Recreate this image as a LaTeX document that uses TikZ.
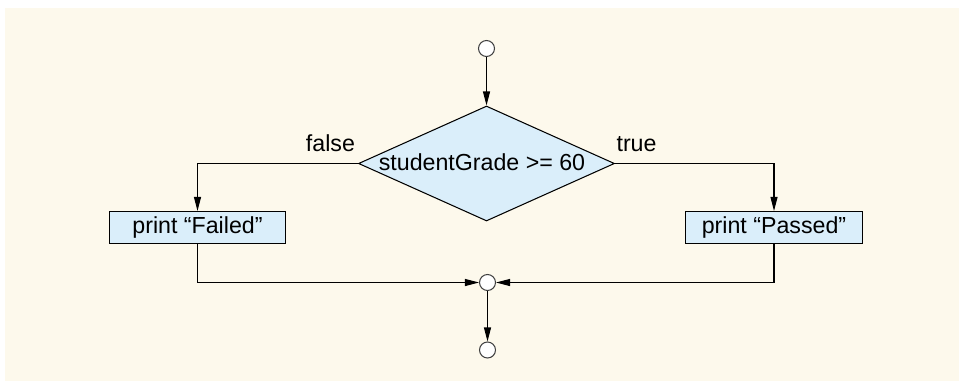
\documentclass[tikz,border=0pt]{standalone}
\usepackage{fontspec}
\setmainfont{Liberation Sans}
\definecolor{cream}{HTML}{FDF9EC}
\definecolor{paleblue}{HTML}{DAEEFA}
\usetikzlibrary{calc, positioning, shapes.geometric, arrows.meta, backgrounds}

\begin{document}
\begin{tikzpicture}[
  line width=0.6pt,
  flow/.style={-{Triangle[length=0.28cm, width=0.14cm]}},
  txt/.style={font=\fontsize{13.2}{15}\selectfont},
  state/.style={circle, draw=black!75, fill=white, minimum size=0.32cm, inner sep=0pt},
  decision/.style={diamond, draw, fill=paleblue, minimum width=5.12cm, minimum height=2.3cm, inner sep=0pt},
  action/.style={rectangle, draw, fill=paleblue, txt, minimum width=3.53cm, minimum height=0.64cm, inner sep=0pt},
  guard/.style={txt, inner sep=0pt}
]
% Page and background
\useasboundingbox (0,0) rectangle (19.18,-7.62);
\fill[cream] (0.10,-0.16) rectangle (19.18,-7.62);

% Initial state and decision
\node[state] (start) at (9.73,-0.97) {};
\node[decision] (grade) at (9.73,-3.27) {};
\node[txt, inner sep=0pt] (cond) at ($(grade.center)+(-0.09,0.02)$) {studentGrade >= 60};

% Actions
\node[action] (failed) at (3.95,-4.55) {print “Failed”};
\node[action] (passed) at (15.48,-4.55) {print “Passed”};

% Merge and final state
\node[state] (merge) at (9.75,-5.65) {};
\node[state] (stop) at (9.75,-7.00) {};

% Guards
\node[guard, anchor=base east] (gfalse) at ($(grade.west)+(-0.05,0.25)$) {false};
\node[guard, anchor=base west] (gtrue) at ($(grade.east)+(0.02,0.24)$) {true};

% Flows
\draw[flow] (start) -- (grade.north);
\draw[flow] (grade.west) -| (failed.north);
\draw[flow] (grade.east) -| (passed.north);
\draw[flow] (failed.south) |- (merge.west);
\draw[flow] (passed.south) |- (merge.east);
\draw[flow] (merge) -- (stop);
\end{tikzpicture}
\end{document}
